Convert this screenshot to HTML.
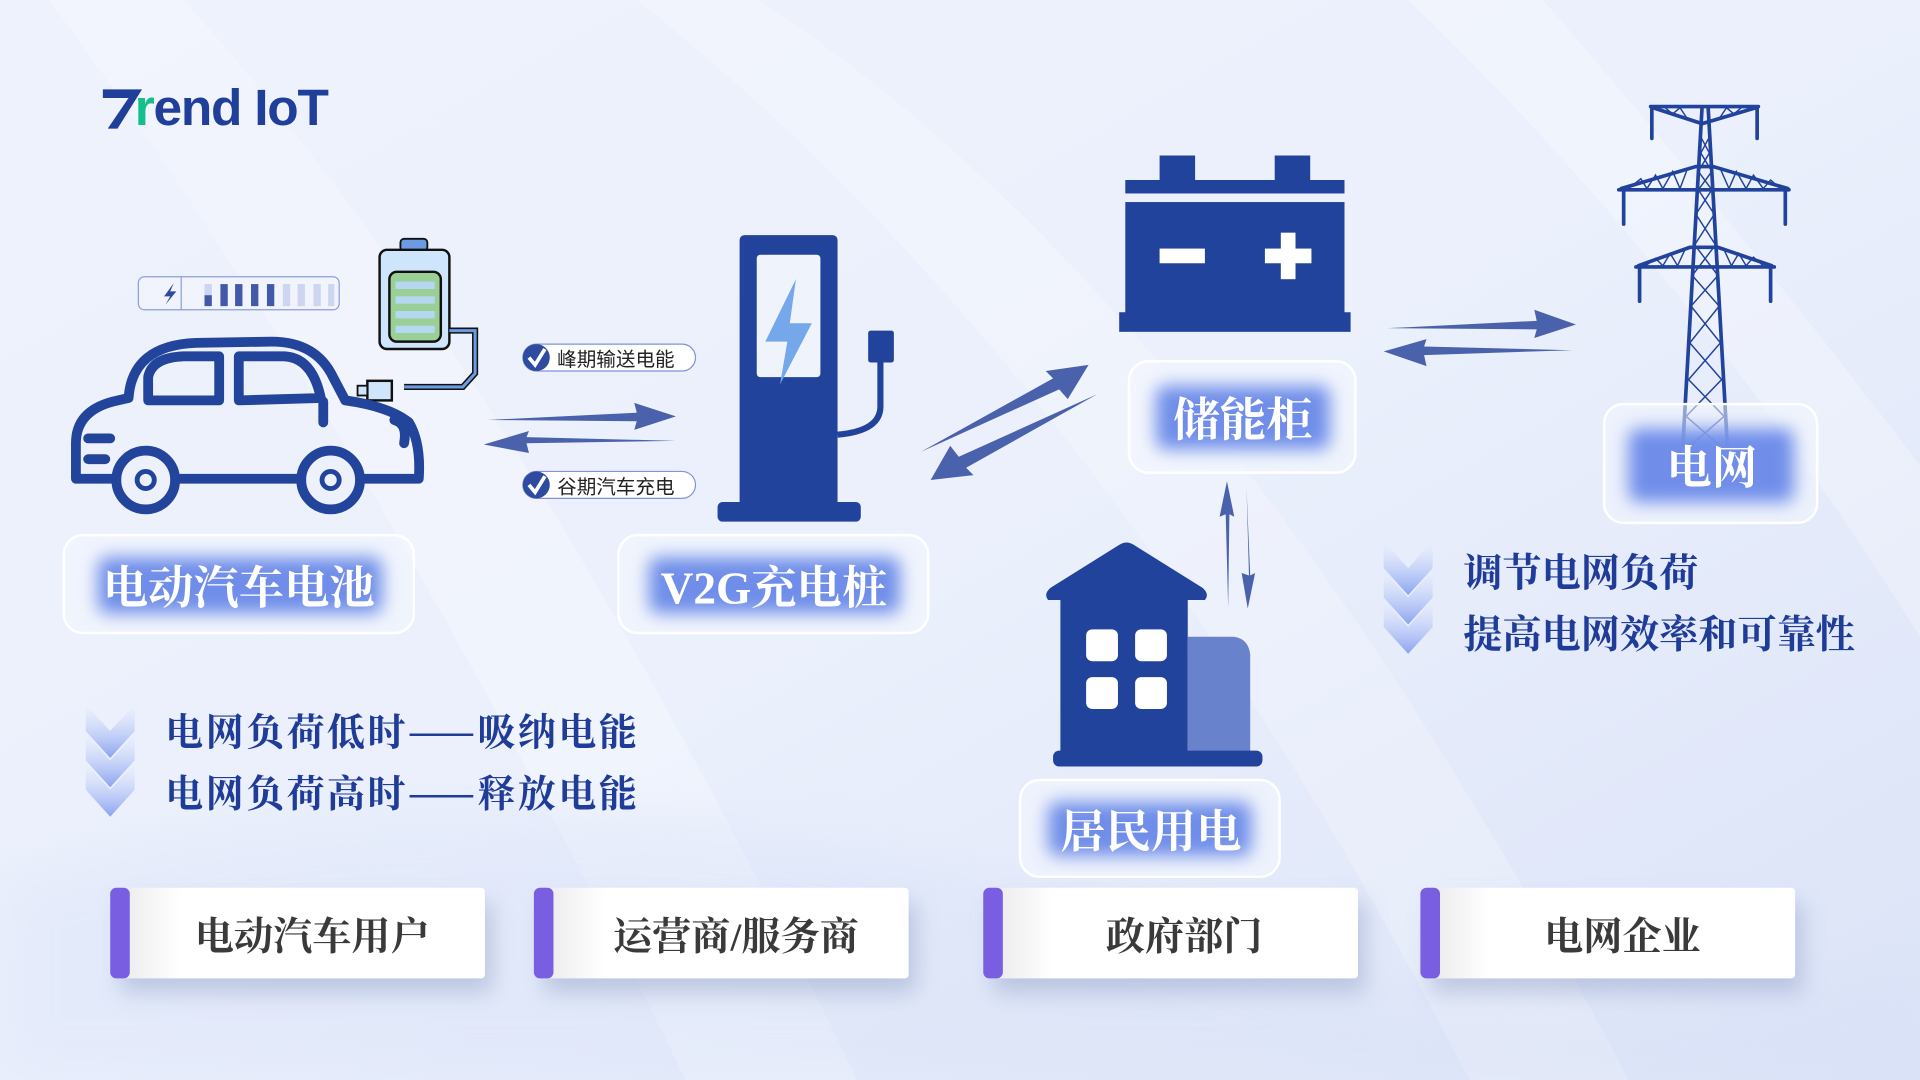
<!DOCTYPE html>
<html><head><meta charset="utf-8">
<style>
html,body{margin:0;padding:0;width:1920px;height:1080px;overflow:hidden;background:#eaeffb;}
svg{display:block}
.lbl{font-family:"Liberation Serif","Noto Serif CJK SC",serif;font-weight:bold;fill:#fff}
.bt{font-family:"Noto Serif CJK SC","Liberation Serif",serif;font-weight:bold;fill:#1f3c98}
.ct{font-family:"Liberation Serif","Noto Serif CJK SC",serif;font-weight:bold;fill:#3a3a3a}
.pill{font-family:"Liberation Sans","Noto Sans CJK SC",sans-serif;fill:#222}
</style></head>
<body>
<svg width="1920" height="1080" viewBox="0 0 1568 882" xmlns="http://www.w3.org/2000/svg">
<defs>
  <linearGradient id="bg" x1="0" y1="0" x2="1" y2="1">
    <stop offset="0" stop-color="#eef2fc"/>
    <stop offset="0.5" stop-color="#ebf0fc"/>
    <stop offset="1" stop-color="#dbe3f7"/>
  </linearGradient>
  <filter id="blur" x="-30%" y="-30%" width="160%" height="160%"><feGaussianBlur stdDeviation="7"/></filter>
  <filter id="soft" x="-10%" y="-10%" width="120%" height="120%"><feGaussianBlur stdDeviation="20"/></filter>
  <filter id="sh" x="-20%" y="-30%" width="150%" height="190%"><feDropShadow dx="6" dy="12" stdDeviation="9" flood-color="#8d9cc4" flood-opacity="0.45"/></filter>
  <linearGradient id="chev" x1="0" y1="0" x2="0" y2="1">
    <stop offset="0" stop-color="#eef2fe" stop-opacity="0.4"/>
    <stop offset="1" stop-color="#8aa3f0"/>
  </linearGradient>
  <linearGradient id="cardg" x1="0" y1="0" x2="1" y2="0">
    <stop offset="0" stop-color="#e8e8ea"/>
    <stop offset="0.18" stop-color="#ffffff"/>
    <stop offset="1" stop-color="#ffffff"/>
  </linearGradient>
  <g id="chevs">
    <polygon points="0,0 20,22 40,0 40,22 20,44 0,22" fill="url(#chev)"/>
    <polygon points="0,24 20,46 40,24 40,46 20,68 0,46" fill="url(#chev)"/>
    <polygon points="0,48 20,70 40,48 40,70 20,92 0,70" fill="url(#chev)"/>
  </g>
</defs>

<rect width="1568" height="882" fill="url(#bg)"/>
<path d="M150 0 Q420 300 700 882 L560 882 Q300 350 40 0Z" fill="#fff" opacity="0.25"/>
<path d="M620 0 Q1000 250 1330 882 L1200 882 Q900 300 520 0Z" fill="#fff" opacity="0.22"/>
<path d="M1150 0 Q1380 220 1568 520 L1568 380 Q1400 160 1260 0Z" fill="#fff" opacity="0.25"/>
<path d="M0 720 Q500 580 1000 780 Q1300 880 1568 780 L1568 882 L0 882Z" fill="#d4def6" opacity="0.3" filter="url(#soft)"/>

<g font-family="Liberation Sans, sans-serif" font-weight="bold" font-size="42">
  <path d="M84 73 L116 73 L96 105 L88 105 L105 80 L84 80Z" fill="#1f3f9a"/>
  <text x="110" y="102" fill="#1f3f9a" letter-spacing="-1"><tspan fill="#13c08a">r</tspan>end IoT</text>
</g>

<rect x="113" y="226" width="164" height="27" rx="5" fill="#f1f4fc" stroke="#8aa0dc" stroke-width="1"/>
<line x1="148" y1="226" x2="148" y2="253" stroke="#8aa0dc"/>
<path d="M142 231 L134 242 L139 242 L135 249 L144 238 L139 238Z" fill="#2f4ba0"/>
<g fill="#4259a7">
  <rect x="167" y="241" width="6" height="9"/><rect x="180" y="232" width="6" height="18"/><rect x="192" y="232" width="6" height="18"/><rect x="205" y="232" width="6" height="18"/><rect x="218" y="232" width="6" height="18"/>
</g>
<g fill="#cdd6ee"><rect x="167" y="232" width="6" height="9"/><rect x="231" y="232" width="6" height="18"/><rect x="243" y="232" width="6" height="18"/><rect x="256" y="232" width="6" height="18"/><rect x="268" y="232" width="5" height="18"/></g>

<rect x="327" y="195" width="22" height="10" rx="3" fill="#6c9be3" stroke="#111" stroke-width="1.5"/>
<rect x="310" y="204" width="57" height="81" rx="6" fill="#cfe5fb" stroke="#111" stroke-width="2"/>
<rect x="318" y="222" width="42" height="57" rx="6" fill="#9ad095" stroke="#111" stroke-width="2"/>
<g fill="#b6d7f2"><rect x="323" y="230" width="32" height="6"/><rect x="323" y="242" width="32" height="6"/><rect x="323" y="254" width="32" height="6"/><rect x="323" y="266" width="32" height="6"/></g>
<path d="M367 270 L388 270 L388 305 L378 316 L330 316" fill="none" stroke="#111" stroke-width="5"/>
<path d="M367 270 L388 270 L388 305 L378 316 L330 316" fill="none" stroke="#6c9be3" stroke-width="2.5"/>
<rect x="300" y="311" width="20" height="16" fill="#cfe5fb" stroke="#111" stroke-width="2"/>
<rect x="292" y="315" width="8" height="8" fill="#cfe5fb" stroke="#111" stroke-width="1.5"/>

<g fill="none" stroke="#23449b" stroke-width="8" stroke-linejoin="round" stroke-linecap="round">
  <path d="M62 391 L62 362 Q62 336 92 328 L105 325 Q108 282 160 280 L222 279 Q258 279 272 308 L282 327 Q318 332 334 345 Q344 362 342 391 L296 391 M244 391 L145 391 M95 391 L62 391"/>
  <path d="M121 327 L121 308 Q124 292 150 291 L179 291 L179 327Z"/>
  <path d="M195 291 L232 291 Q255 292 262 325 L195 327Z"/>
  <path d="M322 343 Q333 346 330 362"/>
  <line x1="72" y1="358" x2="90" y2="358"/>
  <line x1="72" y1="375" x2="86" y2="375"/>
  <line x1="264" y1="328" x2="264" y2="345"/>
</g>
<g fill="#edf1fc" stroke="#23449b" stroke-width="8">
  <circle cx="119" cy="392" r="24"/><circle cx="270" cy="392" r="24"/>
</g>
<g fill="none" stroke="#23449b" stroke-width="4"><circle cx="119" cy="392" r="7"/><circle cx="270" cy="392" r="7"/></g>

<g>
  <rect x="427" y="281" width="141" height="22" rx="11" fill="#fff" stroke="#7f93d6" stroke-width="1"/>
  <circle cx="438" cy="292" r="11" fill="#2f4ba0"/>
  <path d="M432 292 L437 298 L445 285" fill="none" stroke="#fff" stroke-width="3"/>
  <text x="455" y="299" font-size="16" class="pill">峰期输送电能</text>
  <rect x="427" y="385" width="141" height="22" rx="11" fill="#fff" stroke="#7f93d6" stroke-width="1"/>
  <circle cx="438" cy="396" r="11" fill="#2f4ba0"/>
  <path d="M432 396 L437 402 L445 389" fill="none" stroke="#fff" stroke-width="3"/>
  <text x="455" y="403" font-size="16" class="pill">谷期汽车充电</text>
</g>

<g fill="#4a62ab">
  <polygon points="398,343 520,337 518,329 552,340 518,351 520,344"/>
  <polygon points="552,360 430,362 432,370 395,363 432,352 430,357"/>
  <polygon points="752,369 860,309 854,303 889,298 872,326 865,318"/>
  <polygon points="896,322 789,382 795,388 760,392 776,364 783,373"/>
  <polygon points="1133,268 1255,262 1253,253 1287,265 1253,276 1255,269"/>
  <polygon points="1284,286 1163,290 1165,299 1130,287 1165,277 1163,283"/>
  <polygon points="1003,496 1001,420 996,422 1002,393 1008,422 1004,420"/>
  <polygon points="1018,399 1020,470 1014,468 1019,497 1025,468 1021,470"/>
</g>

<rect x="604" y="192" width="80" height="222" rx="4" fill="#22439b"/>
<rect x="586" y="410" width="117" height="16" rx="4" fill="#22439b"/>
<rect x="618" y="208" width="52" height="100" rx="3" fill="#eef3fc"/>
<polygon points="650,228 625,279 643,279 637,314 663,264 645,264" fill="#74a8ea"/>
<rect x="709" y="270" width="21" height="26" rx="2" fill="#22439b"/>
<path d="M719 296 L719 332 Q719 352 684 355" fill="none" stroke="#22439b" stroke-width="5"/>

<g fill="#22439b">
  <rect x="947" y="127" width="29" height="22"/><rect x="1041" y="127" width="29" height="22"/>
  <rect x="919" y="147" width="179" height="11"/>
  <rect x="919" y="165" width="179" height="92"/>
  <rect x="914" y="255" width="189" height="16"/>
</g>
<g fill="#fff"><rect x="947" y="203" width="37" height="12"/><rect x="1033" y="203" width="38" height="12"/><rect x="1046" y="190" width="12" height="38"/></g>

<g stroke="#22439b" fill="none" stroke-linecap="round">
  <g stroke-width="3">
    <line x1="1348" y1="87" x2="1436" y2="87"/><line x1="1349" y1="88" x2="1349" y2="113"/><line x1="1435" y1="88" x2="1435" y2="113"/>
    <path d="M1350 88 L1390 101 L1434 88"/>
    <line x1="1322" y1="155" x2="1461" y2="155"/><line x1="1326" y1="156" x2="1326" y2="183"/><line x1="1458" y1="156" x2="1458" y2="183"/>
    <path d="M1324 154 L1385 136 L1399 136 L1460 154"/>
    <line x1="1336" y1="218" x2="1449" y2="218"/><line x1="1339" y1="219" x2="1339" y2="246"/><line x1="1446" y1="219" x2="1446" y2="246"/>
    <path d="M1338 217 L1380 202 L1403 202 L1447 217"/>
    <line x1="1390" y1="88" x2="1374" y2="370"/><line x1="1395" y1="88" x2="1411" y2="370"/>
  </g>
  <g stroke-width="1.2">
    <path d="M1388 110 L1396 125 L1387 140 L1398 155 L1385 175 L1401 200 L1382 225 L1404 250 L1380 280 L1406 310 L1377 340 L1409 368"/>
    <path d="M1397 110 L1389 125 L1398 140 L1387 155 L1400 175 L1384 200 L1403 225 L1381 250 L1405 280 L1379 310 L1408 340 L1376 368"/>
    <path d="M1330 154 L1340 146 L1345 154 L1352 143 L1358 154 L1366 140 L1372 154 L1378 138 M1405 138 L1412 154 L1418 140 L1426 154 L1432 143 L1440 154 L1446 147 L1454 154"/>
    <path d="M1344 217 L1352 211 L1358 217 L1364 207 L1370 217 L1376 204 M1408 204 L1414 217 L1420 207 L1426 217 L1432 210 L1440 217"/>
    <path d="M1360 88 L1366 93 L1372 88 L1378 97 M1404 97 L1410 88 L1416 93 L1422 88"/>
  </g>
</g>

<g fill="#22439b">
  <path d="M856 490 Q852 485 858 480 L914 445 Q920 441 926 445 L982 480 Q988 485 984 490Z"/>
  <rect x="866" y="488" width="104" height="130"/>
</g>
<path d="M970 520 L1008 520 Q1020 522 1021 535 L1021 618 L970 618Z" fill="#6883cb"/>
<rect x="860" y="613" width="171" height="13" rx="5" fill="#22439b"/>
<g fill="#fff"><rect x="887" y="514" width="26" height="26" rx="5"/><rect x="927" y="514" width="26" height="26" rx="5"/><rect x="887" y="553" width="26" height="26" rx="5"/><rect x="927" y="553" width="26" height="26" rx="5"/></g>

<g>
  <rect x="52" y="437" width="286" height="80" rx="16" fill="#f3f6fe" fill-opacity="0.6" stroke="#fff" stroke-width="2"/>
  <rect x="80" y="455" width="232" height="46" rx="8" fill="#6f8ee9" filter="url(#blur)"/>
  <text x="195" y="493" font-size="37" text-anchor="middle" class="lbl">电动汽车电池</text>

  <rect x="505" y="437" width="253" height="80" rx="16" fill="#f3f6fe" fill-opacity="0.6" stroke="#fff" stroke-width="2"/>
  <rect x="530" y="455" width="205" height="46" rx="8" fill="#6f8ee9" filter="url(#blur)"/>
  <text x="632" y="493" font-size="37" text-anchor="middle" class="lbl">V2G充电桩</text>

  <rect x="922" y="295" width="185" height="91" rx="16" fill="#f3f6fe" fill-opacity="0.6" stroke="#fff" stroke-width="2"/>
  <rect x="944" y="315" width="142" height="52" rx="8" fill="#6f8ee9" filter="url(#blur)"/>
  <text x="1015" y="356" font-size="38" text-anchor="middle" class="lbl">储能柜</text>

  <rect x="1310" y="330" width="174" height="97" rx="16" fill="#f3f6fe" fill-opacity="0.55" stroke="#fff" stroke-width="2"/>
  <rect x="1330" y="350" width="135" height="60" rx="8" fill="#6f8ee9" filter="url(#blur)"/>
  <text x="1398" y="395" font-size="37" text-anchor="middle" class="lbl">电网</text>

  <rect x="833" y="637" width="212" height="79" rx="16" fill="#f3f6fe" fill-opacity="0.6" stroke="#fff" stroke-width="2"/>
  <rect x="856" y="655" width="166" height="44" rx="8" fill="#6f8ee9" filter="url(#blur)"/>
  <text x="940" y="692" font-size="37" text-anchor="middle" class="lbl">居民用电</text>
</g>

<use href="#chevs" x="70" y="575"/>
<text x="135" y="609" font-size="31" class="bt" textLength="385" lengthAdjust="spacing">电网负荷低时——吸纳电能</text>
<text x="135" y="659" font-size="31" class="bt" textLength="385" lengthAdjust="spacing">电网负荷高时——释放电能</text>
<use href="#chevs" x="1130" y="442"/>
<text x="1195" y="479" font-size="32" class="bt">调节电网负荷</text>
<text x="1195" y="529" font-size="32" class="bt">提高电网效率和可靠性</text>

<g>
  <rect x="92" y="725" width="304" height="74" rx="3" fill="url(#cardg)" filter="url(#sh)"/>
  <rect x="90" y="725" width="16" height="74" rx="5" fill="#7a5ee2"/>
  <text x="255" y="776" font-size="32" text-anchor="middle" class="ct">电动汽车用户</text>

  <rect x="438" y="725" width="304" height="74" rx="3" fill="url(#cardg)" filter="url(#sh)"/>
  <rect x="436" y="725" width="16" height="74" rx="5" fill="#7a5ee2"/>
  <text x="601" y="776" font-size="32" text-anchor="middle" class="ct">运营商/服务商</text>

  <rect x="805" y="725" width="304" height="74" rx="3" fill="url(#cardg)" filter="url(#sh)"/>
  <rect x="803" y="725" width="16" height="74" rx="5" fill="#7a5ee2"/>
  <text x="967" y="776" font-size="32" text-anchor="middle" class="ct">政府部门</text>

  <rect x="1162" y="725" width="304" height="74" rx="3" fill="url(#cardg)" filter="url(#sh)"/>
  <rect x="1160" y="725" width="16" height="74" rx="5" fill="#7a5ee2"/>
  <text x="1325" y="776" font-size="32" text-anchor="middle" class="ct">电网企业</text>
</g>
</svg>
</body></html>
